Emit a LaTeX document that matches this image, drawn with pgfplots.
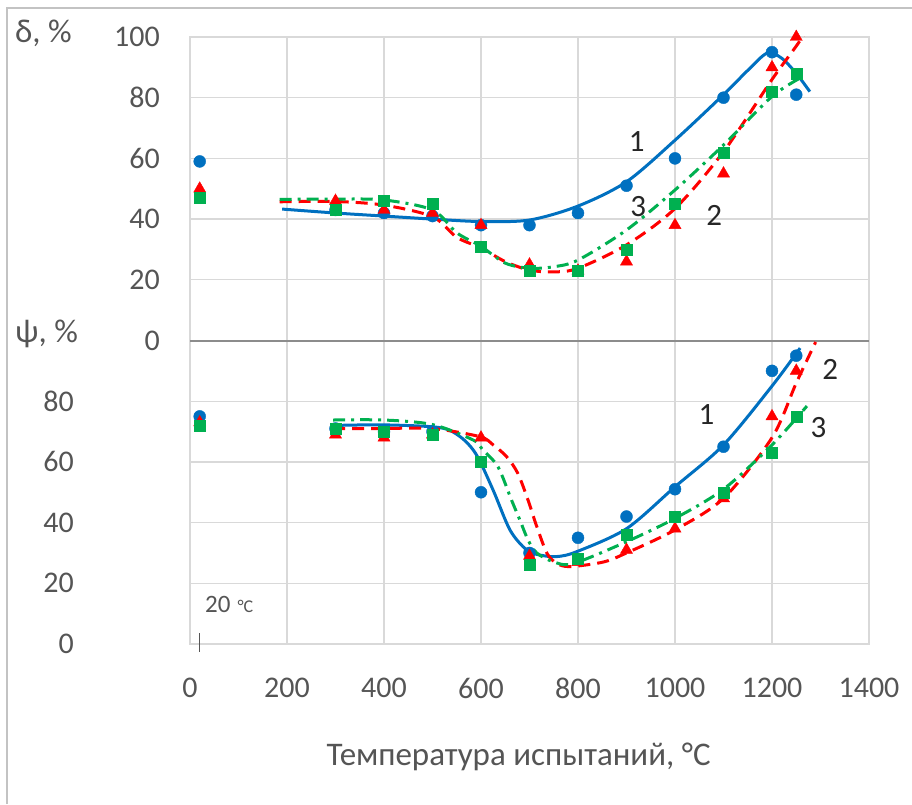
\documentclass[border=0pt]{standalone}
\usepackage{pgfplots}
\pgfplotsset{compat=1.18}
\usepackage{pgfplotstable}
\usepackage{fontspec}
\setmainfont{Carlito}

\definecolor{cblue}{HTML}{0070C0}
\definecolor{cred}{HTML}{FF0000}
\definecolor{cgreen}{HTML}{00B050}
\definecolor{gridgray}{HTML}{D9D9D9}
\definecolor{zerogray}{HTML}{8C8C8C}
\definecolor{txtgray}{HTML}{555555}
\definecolor{framegray}{HTML}{C3C3C3}

\tikzset{lab/.style={font=\fontsize{31}{36}\selectfont, text=black!85, inner sep=0pt}}

% Measured values: temperature T (°C), elongation d (%), reduction of area p (%)
\pgfplotstableread{
T    d   p
20   59  75
300  43  71
400  42  70
500  41  70
600  38  50
700  38  30
800  42  35
900  51  42
1000 60  51
1100 80  65
1200 95  90
1250 81  95
}\ptsA
\pgfplotstableread{
T    d   p
20   50  73
300  46  69
400  43  68
500  42  69
600  38  68
700  25  29
800  23  27
900  26  31
1000 38  38
1100 55  48
1200 90  75
1250 100 90
}\ptsB
\pgfplotstableread{
T    d   p
20   47  72
300  43  71
400  46  70
500  45  69
600  31  60
700  23  26
800  23  28
900  30  36
1000 45  42
1100 62  50
1200 82  63
1250 88  75
}\ptsC

% Trend curves, elongation
\pgfplotstableread{
T    y
190  43.3
300  42
400  41
500  40
600  39.2
700  39.7
800  44.3
900  52.3
1000 66
1100 81
1150 89
1190 94.7
1220 93
1250 88
1278 82
}\curveAd
\pgfplotstableread{
T    y
185  45.7
300  45.8
400  44.6
500  40.8
550  34
600  30.5
650  26
700  23.2
750  22.6
800  23.8
900  31.5
1000 43.5
1100 62.2
1200 86
1250 97
1275 103
}\curveBd
\pgfplotstableread{
T    y
185  46.5
300  46.6
400  46.3
500  43
550  35.5
600  31
650  25.5
700  23.8
750  24.3
800  26.5
900  36.4
1000 49.6
1100 64.4
1200 80.4
1264 87
}\curveCd

% Trend curves, reduction of area
\pgfplotstableread{
T    y
295  72
400  72.2
515  71.3
557  68.3
590  62.5
625  50.7
660  37.5
694  31
722  29.3
756  28.8
797  30.4
900  38
1000 51.8
1100 65.6
1200 85
1258 97.5
}\curveAp
\pgfplotstableread{
T    y
295  71
400  71
500  71
598  68.3
625  65.6
653  61.7
676  56.2
697  47.4
715  38.7
736  29.9
756  26.6
783  25.5
852  27
900  30
1000 37.6
1100 48
1200 68
1250 86
1290 99.5
}\curveBp
\pgfplotstableread{
T    y
295  73.8
400  73.8
500  72.3
584  67.2
604  63.9
635  58.4
663  47.4
680  40.9
697  34.3
715  30
749  27.1
790  26.5
900  33.7
1000 41.4
1100 51
1200 65.6
1272 78.4
}\curveCp

\begin{document}
\begin{tikzpicture}[x=1pt,y=1pt]
\useasboundingbox (0,0) rectangle (912,804);
\draw[framegray, line width=1.5pt] (7,0) -- (7,796) -- (912,796);

\begin{axis}[
  at={(190pt,160pt)}, anchor=south west,
  scale only axis, width=679pt, height=607pt,
  xmin=0, xmax=1400, ymin=0, ymax=200,
  xtick={0,200,...,1400},
  xticklabels={0,200,400,600,800,1000,1200,1400},
  ytick={100,120,...,200},
  yticklabels={0,20,40,60,80,100},
  extra y ticks={0,20,40,60,80},
  extra y tick labels={0,20,40,60,80},
  extra y tick style={grid=major, yticklabel style={xshift=-86pt}},
  grid=major,
  grid style={gridgray, line width=1.3pt},
  axis line style={gridgray, line width=1.3pt},
  major tick length=0pt,
  tick style={draw=none},
  ticklabel style={font=\fontsize{30}{35}\selectfont, text=txtgray, inner sep=0pt},
  xticklabel style={anchor=center, yshift=-44pt},
  yticklabel style={anchor=east, xshift=-30pt},
  xlabel={Температура испытаний, °C},
  xlabel style={at={(axis description cs:0.484,0)}, anchor=base, yshift=-121pt,
    font=\fontsize{33}{38}\selectfont, text=txtgray},
  after end axis/.code={
    \draw[txtgray, line width=1pt] (axis cs:20,3.6) -- (axis cs:20,-2.6);
  },
]
% boundary between the two panels
\draw[zerogray, line width=2pt] (axis cs:0,100) -- (axis cs:1400,100);

% measured points
\addplot[only marks, mark=*, mark size=6pt, color=cblue]
  table[x=T, y expr=\thisrow{d}+100]{\ptsA};
\addplot[only marks, mark=*, mark size=6pt, color=cblue]
  table[x=T, y=p]{\ptsA};
\addplot[only marks, mark=triangle*, mark size=7pt, color=cred]
  table[x=T, y expr=\thisrow{d}+100]{\ptsB};
\addplot[only marks, mark=triangle*, mark size=7pt, color=cred]
  table[x=T, y=p]{\ptsB};
\addplot[only marks, mark=square*, mark size=5.5pt, color=cgreen]
  table[x=T, y expr=\thisrow{d}+100]{\ptsC};
\addplot[only marks, mark=square*, mark size=5.5pt, color=cgreen]
  table[x=T, y=p]{\ptsC};

% trend curves
\addplot[cblue, line width=3pt, smooth, no marks]
  table[x=T, y expr=\thisrow{y}+100]{\curveAd};
\addplot[cred, line width=3pt, smooth, no marks, dash pattern=on 12pt off 7pt]
  table[x=T, y expr=\thisrow{y}+100]{\curveBd};
\addplot[cgreen, line width=3pt, smooth, no marks, dash pattern=on 12pt off 6pt on 3pt off 6pt]
  table[x=T, y expr=\thisrow{y}+100]{\curveCd};
\addplot[cblue, line width=3pt, smooth, no marks]
  table[x=T, y=y]{\curveAp};
\addplot[cred, line width=3pt, smooth, no marks, dash pattern=on 12pt off 7pt]
  table[x=T, y=y]{\curveBp};
\addplot[cgreen, line width=3pt, smooth, no marks, dash pattern=on 12pt off 6pt on 3pt off 6pt]
  table[x=T, y=y]{\curveCp};

% curve numbers
\node[lab] at (axis cs:921,165.5) {1};
\node[lab] at (axis cs:924,144.3) {3};
\node[lab] at (axis cs:1081,141.3) {2};
\node[lab] at (axis cs:1065,75.5) {1};
\node[lab] at (axis cs:1320,90.5) {2};
\node[lab] at (axis cs:1296,71.4) {3};

% room-temperature note
\node[anchor=base west, inner sep=0pt, text=txtgray] at (axis cs:31,10.5)
  {\fontsize{25}{28}\selectfont 20\hspace{7pt}\fontsize{18}{20}\selectfont °C};
\end{axis}

\node[anchor=base west, inner sep=0pt, text=txtgray, font=\fontsize{33}{38}\selectfont]
  at (15,761) {δ, \%};
\node[anchor=base west, inner sep=0pt, text=txtgray, font=\fontsize{33}{38}\selectfont]
  at (15,461) {ψ, \%};
\end{tikzpicture}
\end{document}
